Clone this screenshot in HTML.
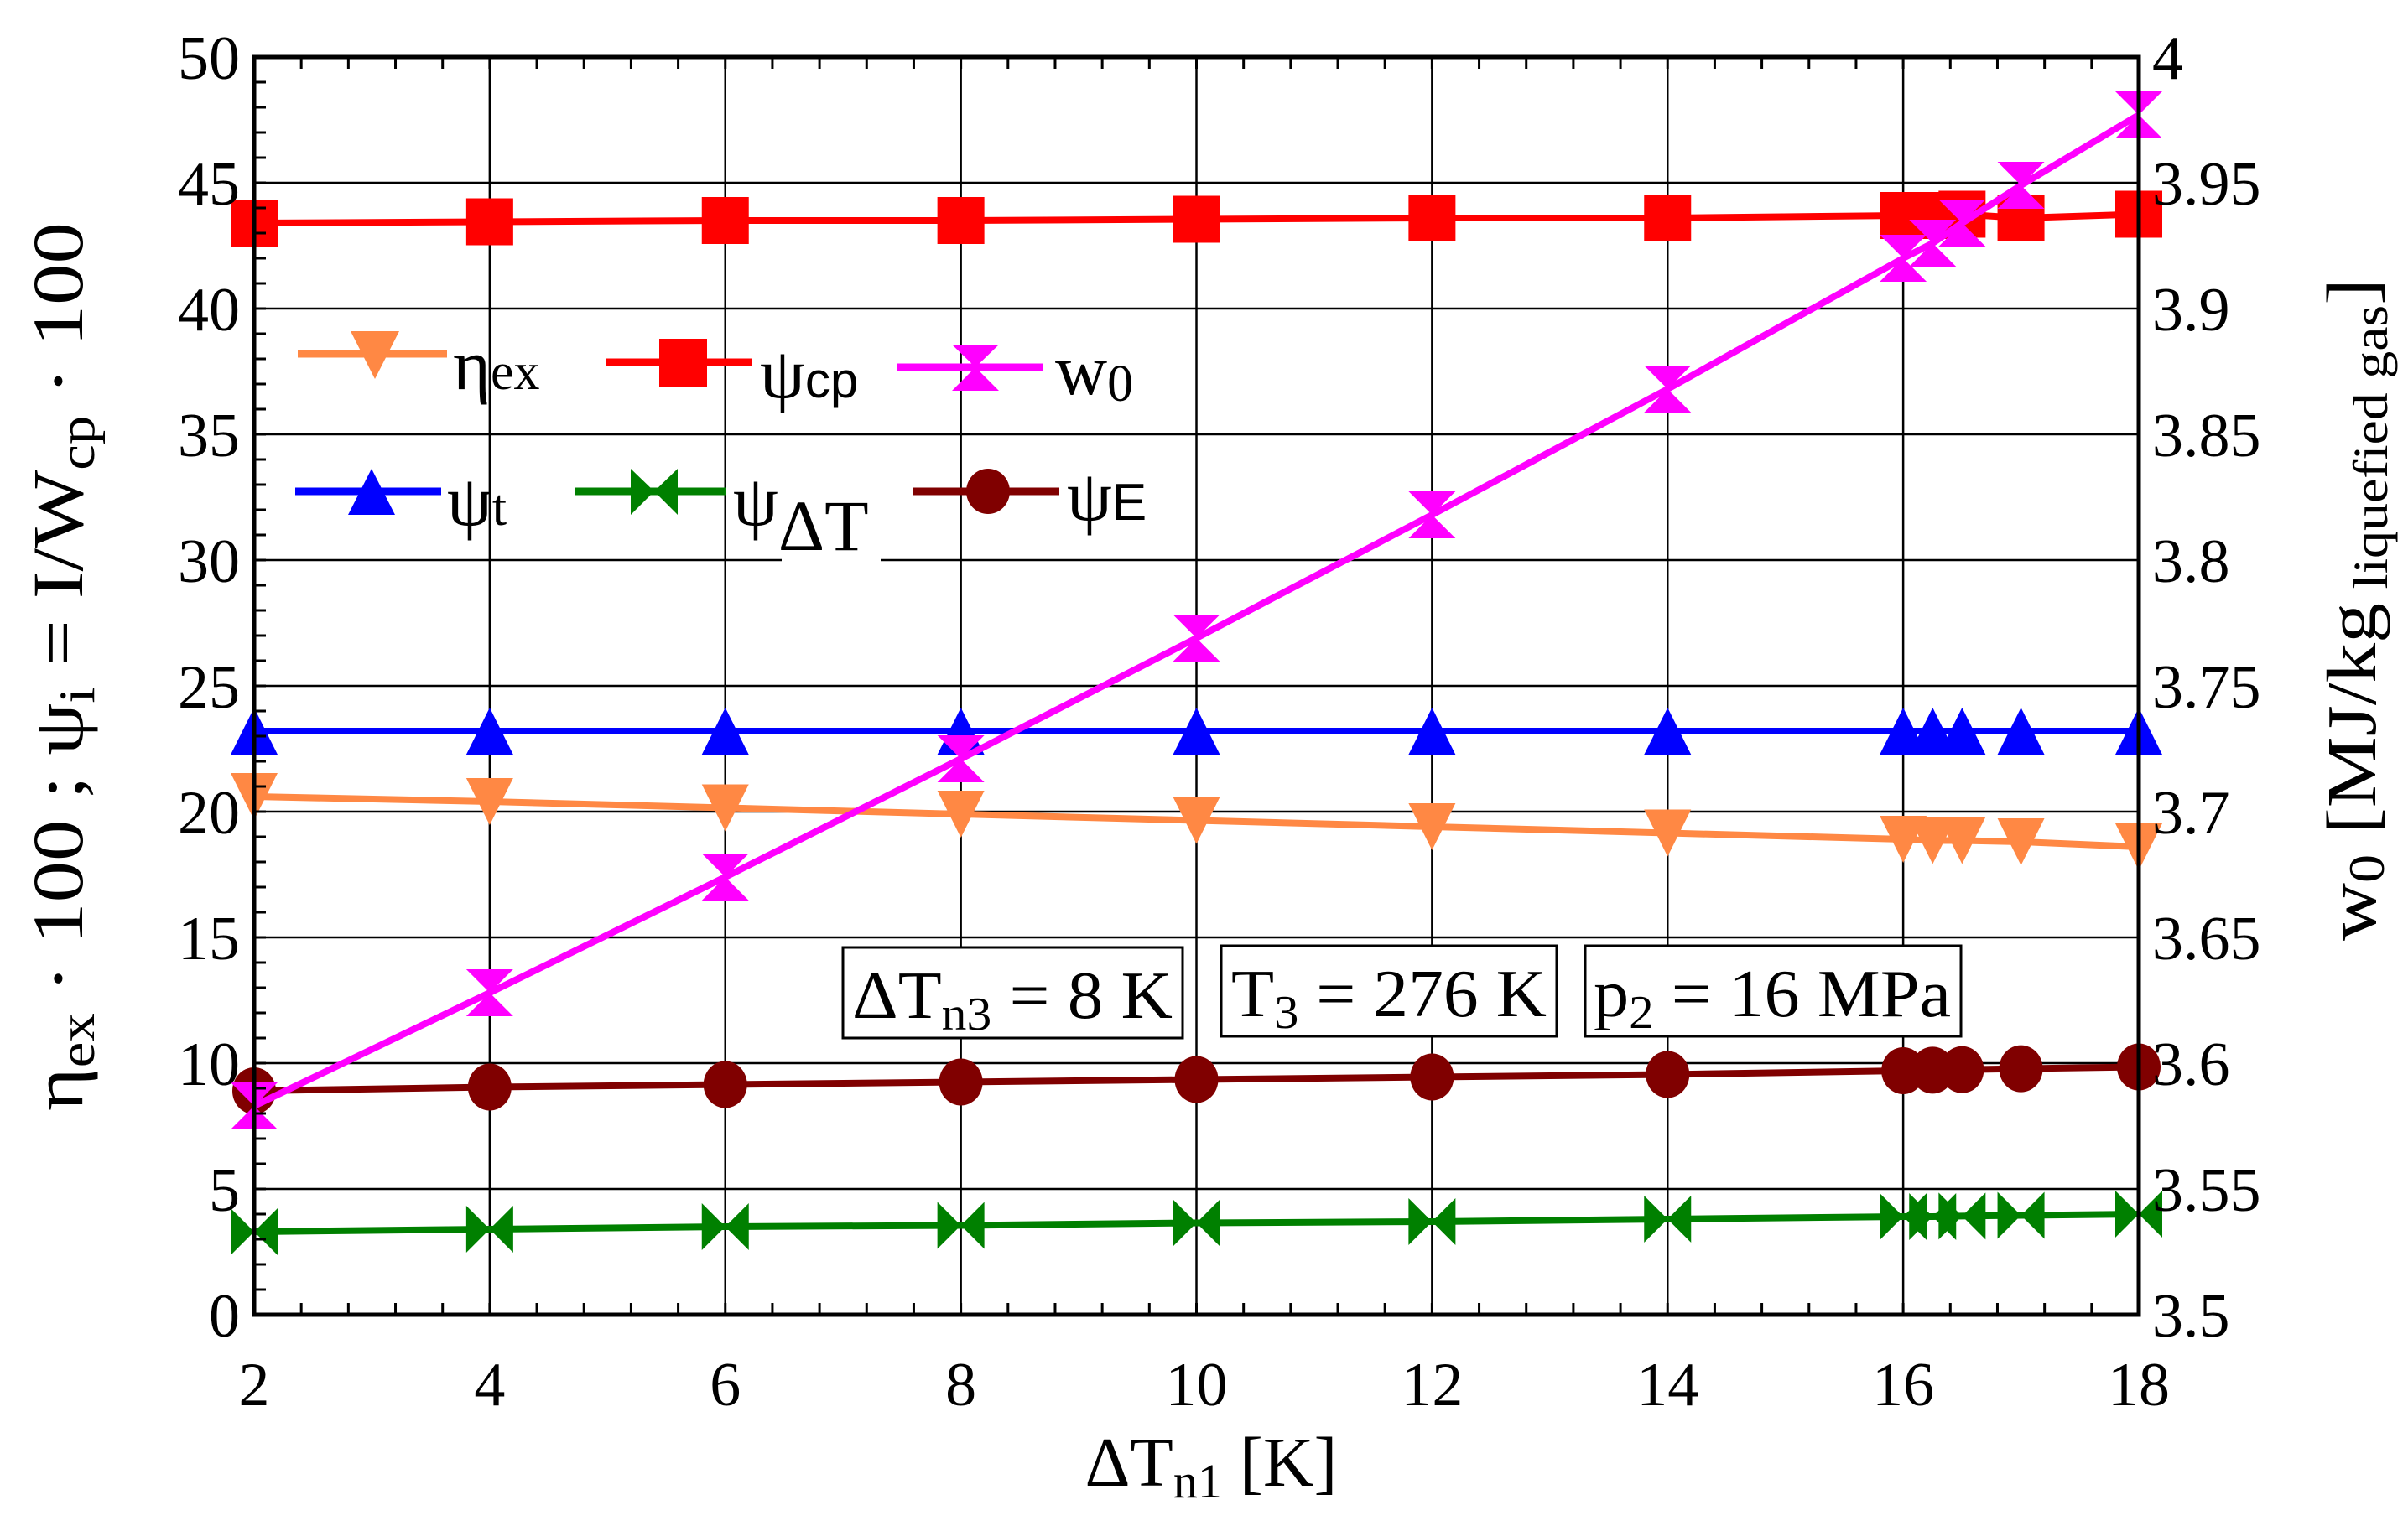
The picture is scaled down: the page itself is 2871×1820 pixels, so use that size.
<!DOCTYPE html>
<html><head><meta charset="utf-8"><style>
html,body{margin:0;padding:0;background:#fff;}
svg{display:block;font-family:"Liberation Serif",serif;}
</style></head><body>
<svg id="chart" width="2871" height="1820" viewBox="0 0 2871 1820">
<g id="grid"></g>
<g id="series"></g>
<g id="axes"></g>
<g id="legend">
  <g>
    <line x1="355" y1="422" x2="533" y2="422" stroke="#ff8844" stroke-width="9"/>
    <polygon points="418,395 476,395 447,452" fill="#ff8844"/>
    <text x="540" y="464" font-size="86">η<tspan font-size="62">ex</tspan></text>
  </g>
  <g>
    <line x1="723" y1="432" x2="897" y2="432" stroke="#ff0000" stroke-width="9"/>
    <rect x="786" y="404" width="57" height="57" fill="#ff0000"/>
    <text x="906" y="474" font-size="86">ψ<tspan font-family="Liberation Sans,sans-serif" font-size="60">cp</tspan></text>
  </g>
  <g>
    <line x1="1070" y1="438" x2="1244" y2="438" stroke="#ff00ff" stroke-width="9"/>
    <polygon points="1135,411 1191,411 1163,438 1191,466 1135,466 1163,438" fill="#ff00ff"/>
    <text x="1258" y="470" font-size="86">w<tspan font-size="62" dy="8">0</tspan></text>
  </g>
  <g>
    <line x1="352" y1="586" x2="526" y2="586" stroke="#0000ff" stroke-width="9"/>
    <polygon points="443,559 471,614 415,614" fill="#0000ff"/>
    <text x="533" y="626" font-size="86">ψ<tspan font-size="62">t</tspan></text>
  </g>
  <g>
    <line x1="686" y1="586" x2="865" y2="586" stroke="#008000" stroke-width="9"/>
    <polygon points="752,559 780,586 752,614" fill="#008000"/>
    <polygon points="808,559 780,586 808,614" fill="#008000"/>
    <rect x="932" y="596" width="118" height="76" fill="#fff"/>
    <text x="874" y="626" font-size="86">ψ<tspan font-size="86" dy="30">ΔT</tspan></text>
  </g>
  <g>
    <line x1="1089" y1="586" x2="1263" y2="586" stroke="#800000" stroke-width="9"/>
    <ellipse cx="1178" cy="586" rx="26" ry="27" fill="#800000"/>
    <text x="1272" y="620" font-size="86">ψ<tspan font-family="Liberation Sans,sans-serif" font-size="62">E</tspan></text>
  </g>
</g>
<g id="annotations">
  <g>
    <rect x="1005" y="1130" width="405" height="108" fill="#fff" stroke="#000" stroke-width="3"/>
    <text x="1016" y="1214" font-size="80" textLength="382" lengthAdjust="spacingAndGlyphs">ΔT<tspan font-size="56" dy="14">n3</tspan><tspan dy="-14"> = 8 K</tspan></text>
  </g>
  <g>
    <rect x="1456" y="1128" width="400" height="108" fill="#fff" stroke="#000" stroke-width="3"/>
    <text x="1468" y="1212" font-size="80" textLength="376" lengthAdjust="spacingAndGlyphs">T<tspan font-size="56" dy="14">3</tspan><tspan dy="-14"> = 276 K</tspan></text>
  </g>
  <g>
    <rect x="1890" y="1128" width="448" height="108" fill="#fff" stroke="#000" stroke-width="3"/>
    <text x="1900" y="1212" font-size="80" textLength="426" lengthAdjust="spacingAndGlyphs">p<tspan font-size="56" dy="14">2</tspan><tspan dy="-14"> = 16 MPa</tspan></text>
  </g>
</g>
<text x="1444" y="1772" font-size="84" text-anchor="middle">ΔT<tspan font-size="58" dy="14">n1</tspan><tspan dy="-14">  [K]</tspan></text>
<text transform="translate(98,795) rotate(-90)" font-size="86" text-anchor="middle" textLength="1060" lengthAdjust="spacingAndGlyphs">η<tspan font-size="60" dy="14">ex</tspan><tspan dy="-14"> · 100 ; ψ</tspan><tspan font-size="60" dy="14">i</tspan><tspan dy="-14">  =  I/W</tspan><tspan font-size="60" dy="14">cp</tspan><tspan dy="-14"> · 100</tspan></text>
<text transform="translate(2832,727) rotate(-90)" font-size="84" text-anchor="middle" textLength="790" lengthAdjust="spacingAndGlyphs">w<tspan font-size="60" dy="10">0</tspan><tspan dy="-10"> [MJ/kg</tspan><tspan font-size="58" dy="14"> liquefied gas</tspan><tspan dy="-14">]</tspan></text>
<script>
const xVals=[2,4,6,8,10,12,14,16,16.25,16.5,17,18];
const psiCp=[43.4,43.45,43.5,43.5,43.55,43.6,43.6,43.7,43.7,43.75,43.6,43.75];
const w0=[3.583,3.628,3.674,3.721,3.769,3.818,3.868,3.92,3.926,3.934,3.949,3.977];
const psiT=[23.2,23.2,23.2,23.2,23.2,23.2,23.2,23.2,23.2,23.2,23.2,23.2];
const etaEx=[20.6,20.4,20.15,19.9,19.65,19.4,19.15,18.9,18.85,18.85,18.8,18.6];
const psiE=[8.9,9.05,9.15,9.25,9.35,9.45,9.55,9.7,9.72,9.74,9.78,9.85];
const psiDT=[3.3,3.4,3.5,3.55,3.65,3.7,3.8,3.9,3.9,3.92,3.95,4.0];
const xTicks=[2,4,6,8,10,12,14,16,18];
const yTicks=[0,5,10,15,20,25,30,35,40,45,50];
const y2Ticks=["3.5","3.55","3.6","3.65","3.7","3.75","3.8","3.85","3.9","3.95","4"];
const L=303,R=2550,T=68,B=1568;
const NS="http://www.w3.org/2000/svg";
const sx=v=>L+(v-2)/16*(R-L);
const sy=v=>B-v/50*(B-T);
const sy2=v=>B-(v-3.5)/0.5*(B-T);
function mk(tag,attrs,parent){const e=document.createElementNS(NS,tag);for(const k in attrs)e.setAttribute(k,attrs[k]);parent.appendChild(e);return e;}
const grid=document.getElementById('grid'),axes=document.getElementById('axes'),ser=document.getElementById('series');
xTicks.forEach(v=>{const l=mk('line',{x1:sx(v),x2:sx(v),y1:T,y2:B,stroke:'#000','stroke-width':2.5},grid);


const t=mk('text',{x:sx(v),y:1676,'font-size':74,'text-anchor':'middle'},axes);t.textContent=v;

});
yTicks.forEach((v,i)=>{const l=mk('line',{x1:L,x2:R,y1:sy(v),y2:sy(v),stroke:'#000','stroke-width':2.5},grid);


const t=mk('text',{x:286,y:sy(v)+26,'font-size':74,'text-anchor':'end'},axes);t.textContent=v;


const t2=mk('text',{x:2566,y:sy2(parseFloat(y2Ticks[i]))+26,'font-size':74},axes);t2.textContent=y2Ticks[i];

});
for(let v=2;v<=18.001;v+=0.4){mk('line',{x1:sx(v),x2:sx(v),y1:B,y2:B-14,stroke:'#000','stroke-width':3},axes);mk('line',{x1:sx(v),x2:sx(v),y1:T,y2:T+14,stroke:'#000','stroke-width':3},axes);}
for(let v=0;v<=50;v+=1){mk('line',{x1:L,x2:L+14,y1:sy(v),y2:sy(v),stroke:'#000','stroke-width':3},axes);}
const fr=mk('rect',{x:L,y:T,width:R-L,height:B-T,fill:'none',stroke:'#000','stroke-width':5},axes);


function drawSeries(name,vals,ys,color,shape){
 const g=mk('g',{},ser);
 
 
 const pts=vals.map((v,i)=>sx(xVals[i])+','+ys(v)).join(' ');
 mk('polyline',{points:pts,fill:'none',stroke:color,'stroke-width':8},g);
 vals.forEach((v,i)=>{const x=sx(xVals[i]),y=ys(v),h=28;let m;
  if(shape==='down')m=mk('polygon',{points:`${x-h},${y-h} ${x+h},${y-h} ${x},${y+h}`,fill:color},g);
  else if(shape==='up')m=mk('polygon',{points:`${x},${y-h} ${x+h},${y+h} ${x-h},${y+h}`,fill:color},g);
  else if(shape==='square')m=mk('rect',{x:x-h,y:y-h,width:2*h,height:2*h,fill:color},g);
  else if(shape==='hour')m=mk('polygon',{points:`${x-h},${y-h} ${x+h},${y-h} ${x},${y} ${x+h},${y+h} ${x-h},${y+h} ${x},${y}`,fill:color},g);
  else if(shape==='bow')m=mk('polygon',{points:`${x-h},${y-h} ${x},${y} ${x-h},${y+h}`,fill:color},g);
  else m=mk('ellipse',{cx:x,cy:y,rx:26,ry:28,fill:color},g);
  if(shape==='bow'){mk('polygon',{points:`${x+h},${y-h} ${x},${y} ${x+h},${y+h}`,fill:color},g);}
  
  
 });
}
drawSeries('series-psi-dt',psiDT,sy,'#008000','bow');
drawSeries('series-psi-e',psiE,sy,'#800000','circle');
drawSeries('series-eta-ex',etaEx,sy,'#ff8844','down');
drawSeries('series-psi-t',psiT,sy,'#0000ff','up');
drawSeries('series-psi-cp',psiCp,sy,'#ff0000','square');
drawSeries('series-w0',w0,sy2,'#ff00ff','hour');
</script>
</svg>
</body></html>
